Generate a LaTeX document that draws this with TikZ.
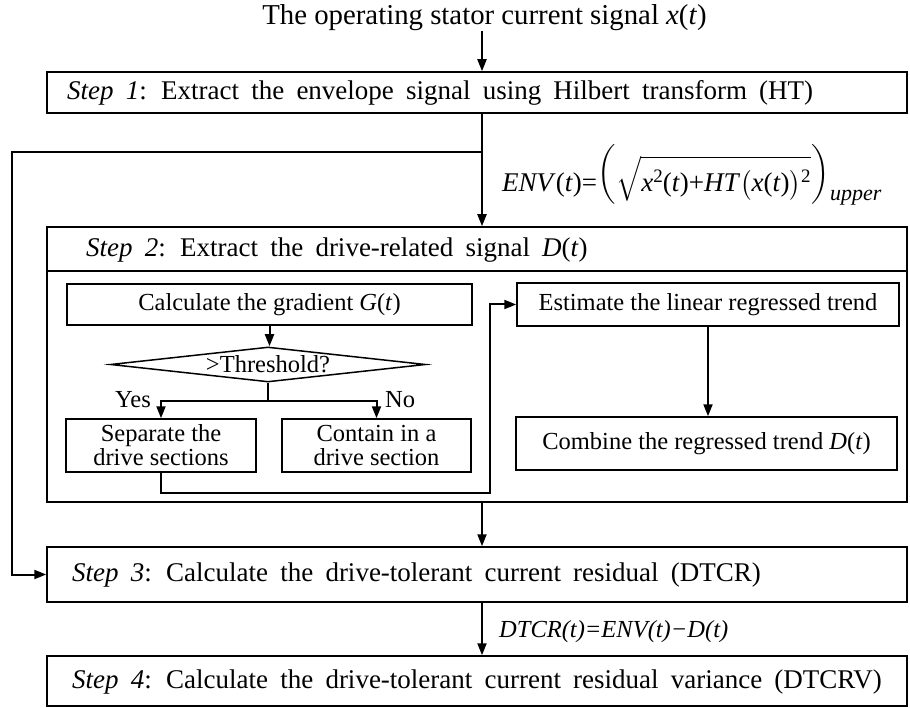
\documentclass[tikz,border=0pt]{standalone}
\usepackage{amsmath}
\usepackage{exscale}
\usepackage{fontspec}
\setmainfont{Liberation Serif}
\newfontfamily\stepfont[WordSpace=1.8]{Liberation Serif}
\usetikzlibrary{shapes.geometric,arrows.meta,calc}

\tikzset{
  box/.style={draw, line width=1.5pt, inner sep=0pt},
  steptext/.style={anchor=west, inner sep=0pt, font=\stepfont\fontsize{27}{30}\selectfont},
  innertext/.style={box, align=center, font=\fontsize{24.5}{26}\selectfont},
  conn/.style={line width=2pt},
  arr/.style={conn, -{Triangle[length=12pt,width=9pt]}},
}
% small raised digit used in the envelope formula
\newcommand{\supdig}[1]{\raisebox{9pt}{\fontsize{19}{19}\selectfont #1}}

\begin{document}
\begin{tikzpicture}[x=1pt,y=-1pt]
\useasboundingbox (0,0) rectangle (910,708);

% trunk of the main flow and the bypass to step 3
\coordinate (trunk) at (482,0);
\coordinate (br) at (482,152);
\coordinate (lp) at (12,152);
\coordinate (rb) at (490,493);

% input signal
\node[inner sep=0pt, font=\fontsize{28.8}{30}\selectfont] (title) at (484.5,18)
  {The operating stator current signal \textit{x}(\textit{t})};

% main step boxes
\node[box, minimum width=860, minimum height=41] (s1) at (477,92.5) {};
\node[steptext] (s1t) at (67,92.5)
  {\textit{Step 1}: Extract the envelope signal using Hilbert transform (HT)};

\node[box, minimum width=860, minimum height=275] (s2) at (477,364.5) {};
\draw[line width=1.5pt] ([yshift=-45pt]s2.north west) -- ([yshift=-45pt]s2.north east);
\node[steptext] (s2t) at (86,250)
  {\textit{Step 2}: Extract the drive-related signal \textit{D}(\textit{t})};

\node[box, minimum width=860, minimum height=55] (s3) at (477,574.5) {};
\node[steptext] (s3t) at (72,575)
  {\textit{Step 3}: Calculate the drive-tolerant current residual (DTCR)};

\node[box, minimum width=860, minimum height=50] (s4) at (477,681) {};
\node[steptext] (s4t) at (72,682)
  {\textit{Step 4}: Calculate the drive-tolerant current residual variance (DTCRV)};

% inner blocks of step 2
\node[innertext, minimum width=405, minimum height=41] (calc) at (269.5,304.5)
  {Calculate the gradient \textit{G}(\textit{t})};
\node[draw, line width=1.5pt, diamond, aspect=9, inner sep=0pt,
      minimum width=315, minimum height=35, font=\fontsize{24.5}{26}\selectfont]
  (thr) at (268,364.5) {>Threshold?};
\node[innertext, minimum width=190, minimum height=53,
      font=\fontsize{24.5}{24}\selectfont] (sep) at (161,445.5)
  {Separate the\\drive sections};
\node[innertext, minimum width=189, minimum height=53,
      font=\fontsize{24.5}{24}\selectfont] (con) at (376.5,445.5)
  {Contain in a\\drive section};
\node[innertext, minimum width=382, minimum height=43] (est) at (708,304.5)
  {Estimate the linear regressed trend};
\node[innertext, minimum width=381, minimum height=53] (comb) at (706.5,443.5)
  {Combine the regressed trend \textit{D}(\textit{t})};

\node[inner sep=0pt, anchor=east, font=\fontsize{24.5}{26}\selectfont] (yes) at (151,400) {Yes};
\node[inner sep=0pt, anchor=west, font=\fontsize{24.5}{26}\selectfont] (no) at (385,400) {No};

% envelope formula
\node[inner sep=0pt, anchor=base west, font=\fontsize{27}{30}\selectfont] (envf) at (502,192)
  {\textit{ENV}(\textit{t})=%
   \raisebox{11pt}{$\left(\vcenter to 54pt{}\right.$}%
   $\sqrt{\rule[-6pt]{0pt}{38pt}\text{\textit{x}\supdig{2}(\textit{t})+\textit{HT}}%
     \bigl(\text{\textit{x}(\textit{t})}\bigr)\text{\supdig{2}}}$%
   \raisebox{11pt}{$\left.\vcenter to 54pt{}\right)$}%
   \raisebox{-9pt}{\fontsize{22}{22}\selectfont\itshape upper}};
% residual formula
\node[inner sep=0pt, anchor=west, font=\fontsize{24.5}{26}\selectfont\itshape] (dtf) at (499,632)
  {DTCR(t)=ENV(t)\textminus D(t)};

% connectors
\draw[arr] (title.south -| trunk) -- (s1.north -| trunk);
\draw[arr] (s1.south -| trunk) -- (s2.north -| trunk);
\draw[arr] (br) -- (lp) |- (s3.west);
\draw[arr] (calc.south) -- (calc.south |- thr.north);
\draw[conn] (thr.south) -- ++(0,18.5) coordinate (fork);
\draw[arr] (fork) -| (sep.north);
\draw[arr] (fork) -| (con.north);
\draw[arr] (sep.south) |- (rb) |- (est.west);
\draw[arr] (est.south) -- (est.south |- comb.north);
\draw[arr] (s2.south -| trunk) -- (s3.north -| trunk);
\draw[arr] (s3.south -| trunk) -- (s4.north -| trunk);
\end{tikzpicture}
\end{document}
